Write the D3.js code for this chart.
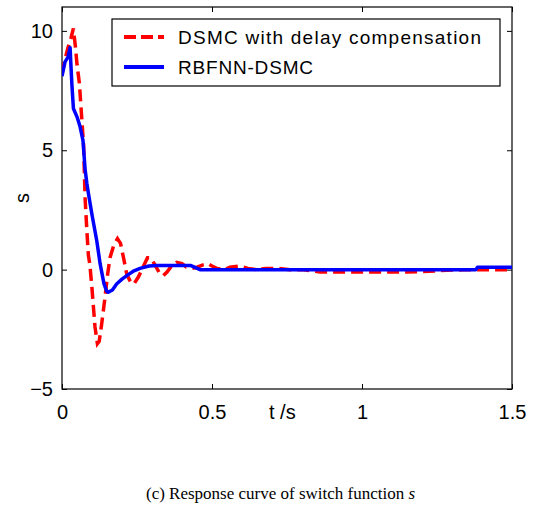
<!DOCTYPE html>
<html>
<head>
<meta charset="utf-8">
<script src="https://cdn.jsdelivr.net/npm/d3@7"></script>
<style>
  body { margin: 0; background: #fff; }
  svg { display: block; }
</style>
</head>
<body>
<script>
// data
let tRed = [0, 0.01, 0.02, 0.03, 0.038, 0.045, 0.05, 0.058, 0.066, 0.072, 0.077, 0.083, 0.088, 0.093, 0.1, 0.11, 0.118, 0.124, 0.132, 0.143, 0.152, 0.16, 0.172, 0.185, 0.195, 0.205, 0.216, 0.23, 0.24, 0.255, 0.27, 0.285, 0.295, 0.31, 0.325, 0.338, 0.35, 0.365, 0.382, 0.4, 0.415, 0.43, 0.45, 0.47, 0.487, 0.5, 0.516, 0.54, 0.56, 0.59, 0.62, 0.65, 0.68, 0.72, 0.76, 0.8, 0.83, 0.86, 0.9, 0.95, 1.0, 1.05, 1.1, 1.15, 1.2, 1.25, 1.3, 1.35, 1.4, 1.45, 1.5];
let sRed = [8.2, 8.8, 9.3, 9.7, 10.1, 9.3, 8.6, 7.8, 6.3, 5.2, 3.0, 1.6, 0.6, 0.2, -0.8, -2.4, -3.1, -3.0, -2.3, -1.2, -0.2, 0.5, 1.0, 1.3, 1.1, 0.5, -0.2, -0.55, -0.6, -0.3, 0.1, 0.5, 0.5, 0.2, -0.15, -0.25, -0.1, 0.15, 0.3, 0.25, 0.1, 0.05, 0.1, 0.2, 0.25, 0.15, 0.05, 0.0, 0.1, 0.15, 0.05, 0.0, 0.05, 0.05, 0.0, 0.0, -0.05, -0.1, -0.1, -0.1, -0.1, -0.1, -0.1, -0.1, -0.08, -0.05, -0.02, 0.0, 0.0, 0.0, 0.0];

let tBlue = [0, 0.01, 0.02, 0.027, 0.03, 0.033, 0.038, 0.05, 0.06, 0.07, 0.077, 0.083, 0.088, 0.1, 0.116, 0.127, 0.14, 0.149, 0.154, 0.168, 0.182, 0.2, 0.216, 0.24, 0.26, 0.29, 0.316, 0.36, 0.43, 0.46, 0.6, 0.8, 1.0, 1.2, 1.38, 1.385, 1.5];
let sBlue = [8.1, 8.7, 8.9, 9.3, 8.5, 7.75, 6.75, 6.4, 6.0, 5.4, 4.2, 3.6, 3.2, 2.3, 1.2, 0.25, -0.6, -0.9, -0.95, -0.85, -0.6, -0.4, -0.25, -0.05, 0.05, 0.15, 0.17, 0.17, 0.17, 0.0, 0.0, 0.0, 0.0, 0.0, 0.0, 0.1, 0.1];

let xTicks = [0, 0.5, 1, 1.5];
let yTicks = [-5, 0, 5, 10];
let seriesNames = ["DSMC with delay compensation", "RBFNN-DSMC"];
let xLabel = "t /s";
let yLabel = "s";

let w = 538, h = 508;
let margin = {left: 62, right: 512, top: 7, bottom: 389};

let svg = d3.select("body").append("svg")
    .attr("width", w)
    .attr("height", h)
    .style("background", "#fff");

let xScale = d3.scaleLinear().domain([0, 1.5]).range([margin.left, margin.right]);
let yScale = d3.scaleLinear().domain([-5, 11]).range([margin.bottom, margin.top]);

svg.append("clipPath").attr("id", "clip")
  .append("rect")
    .attr("x", margin.left).attr("y", margin.top)
    .attr("width", margin.right - margin.left).attr("height", margin.bottom - margin.top);

let font = "Arial, 'Liberation Sans', Helvetica, sans-serif";

// axes with inward ticks on all four sides
let xAxisB = d3.axisBottom(xScale).tickValues(xTicks).tickSize(-5).tickPadding(16)
    .tickFormat(d3.format("~g"));
let xAxisT = d3.axisTop(xScale).tickValues(xTicks).tickSize(-5).tickFormat("");
let yAxisL = d3.axisLeft(yScale).tickValues(yTicks).tickSize(-5).tickPadding(9);
let yAxisR = d3.axisRight(yScale).tickValues(yTicks).tickSize(-5).tickFormat("");

let gB = svg.append("g").attr("transform", "translate(0," + margin.bottom + ")").call(xAxisB);
let gT = svg.append("g").attr("transform", "translate(0," + margin.top + ")").call(xAxisT);
let gL = svg.append("g").attr("transform", "translate(" + margin.left + ",0)").call(yAxisL);
let gR = svg.append("g").attr("transform", "translate(" + margin.right + ",0)").call(yAxisR);

[gB, gT, gL, gR].forEach(g => {
  g.select(".domain").remove();
  g.selectAll(".tick line").attr("stroke", "#000").attr("stroke-width", 1);
  g.selectAll("text").attr("font-family", font).attr("font-size", 20).attr("fill", "#000");
});
gB.selectAll(".tick text").attr("dy", "0.71em");

// frame
svg.append("rect")
    .attr("x", margin.left).attr("y", margin.top)
    .attr("width", margin.right - margin.left).attr("height", margin.bottom - margin.top)
    .attr("fill", "none").attr("stroke", "#000").attr("stroke-width", 1.2);

let line = d3.line()
    .x(d => xScale(d[0]))
    .y(d => yScale(d[1]));

let plot = svg.append("g").attr("clip-path", "url(#clip)");

plot.append("path")
    .datum(tRed.map((t, i) => [t, sRed[i]]))
    .attr("d", line)
    .attr("fill", "none")
    .attr("stroke", "#ff0000")
    .attr("stroke-width", 3.5)
    .attr("stroke-dasharray", "12,6");

plot.append("path")
    .datum(tBlue.map((t, i) => [t, sBlue[i]]))
    .attr("d", line)
    .attr("fill", "none")
    .attr("stroke", "#0000ff")
    .attr("stroke-width", 3.5)
    .attr("stroke-linejoin", "round");

// axis labels
svg.append("text")
    .attr("x", 269).attr("y", 419)
    .attr("font-family", font).attr("font-size", 20)
    .text(xLabel);

svg.append("text")
    .attr("transform", "translate(29,198) rotate(-90)")
    .attr("text-anchor", "middle")
    .attr("font-family", font).attr("font-size", 20)
    .text(yLabel);

// legend
let legend = svg.append("g");
legend.append("rect")
    .attr("x", 112).attr("y", 19)
    .attr("width", 388).attr("height", 67)
    .attr("fill", "#fff").attr("stroke", "#000").attr("stroke-width", 1.2);

let legendY = [37, 67];
let legendColors = ["#ff0000", "#0000ff"];
let legendWidths = [303, 135];
seriesNames.forEach((name, i) => {
  legend.append("line")
      .attr("x1", 124).attr("x2", 164)
      .attr("y1", legendY[i]).attr("y2", legendY[i])
      .attr("stroke", legendColors[i])
      .attr("stroke-width", 4)
      .attr("stroke-dasharray", i == 0 ? "12,5" : null);
  legend.append("text")
      .attr("x", 178).attr("y", legendY[i] + 7)
      .attr("font-family", font).attr("font-size", 19)
      .attr("textLength", legendWidths[i])
      .attr("lengthAdjust", "spacing")
      .text(name);
});

// caption
let cap = svg.append("text")
    .attr("x", 146).attr("y", 499)
    .attr("font-family", "'Times New Roman', 'Liberation Serif', serif")
    .attr("font-size", 17);
cap.append("tspan").text("(c) Response curve of switch function ");
cap.append("tspan").attr("font-style", "italic").text("s");
</script>
</body>
</html>
